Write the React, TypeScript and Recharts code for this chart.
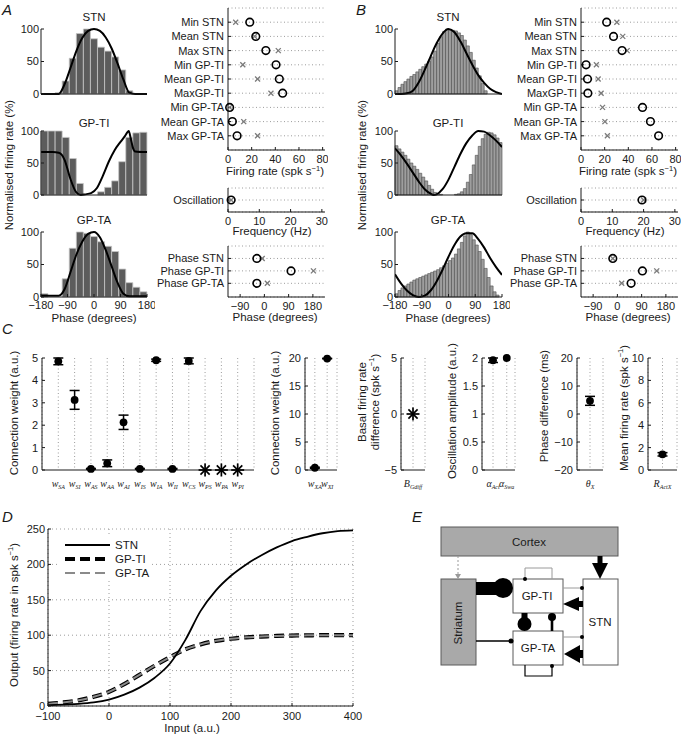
import React from 'react';
import {
  Bar,
  CartesianGrid,
  ComposedChart,
  ErrorBar,
  Line,
  LineChart,
  Scatter,
  ScatterChart,
  XAxis,
  YAxis,
} from 'recharts';

const FONT = '"Liberation Sans", Arial, Helvetica, sans-serif';
const SERIF = '"Liberation Serif", "Times New Roman", serif';
const INK = '#1a1a1a';
const GRID = '#9c9c9c';

// Panels A/B: phase histograms, normalised firing rate (%)
const stnBarsA = [0, 0, 2, 20, 55, 93, 100, 85, 72, 66, 57, 37, 5, 0, 0];
const gptiBarsA = [100, 100, 100, 90, 57, 18, 0, 0, 5, 12, 22, 52, 90, 97, 98];
const gptaBarsA = [5, 0, 0, 28, 75, 100, 98, 93, 85, 78, 70, 43, 22, 15, 8];

const stnBarsB = [5, 10, 15, 19, 23, 27, 30, 34, 38, 42, 46, 50, 57, 66, 78, 88, 96, 100, 99, 98, 97, 94, 90, 83, 74, 64, 52, 40, 28, 16, 5, 0, 0, 0, 0, 0];
const gptiBarsB = [77, 72, 67, 62, 56, 50, 45, 40, 34, 28, 22, 15, 9, 4, 2, 1, 0, 0, 0, 0, 1, 2, 5, 10, 20, 32, 47, 62, 76, 88, 95, 98, 97, 94, 89, 82];
const gptaBarsB = [5, 10, 14, 17, 20, 23, 26, 28, 30, 32, 34, 36, 38, 40, 42, 45, 48, 52, 56, 60, 66, 74, 84, 94, 100, 96, 88, 80, 70, 58, 44, 30, 17, 8, 3, 0];

// model curves over phase (degrees)
const curvePhase = [-180, -160, -140, -120, -100, -80, -60, -40, -20, 0, 20, 40, 60, 80, 100, 120, 140, 160, 180];
const stnCurveA = [0, 0, 0, 0, 15, 40, 66, 86, 97, 100, 97, 87, 70, 47, 22, 2, 0, 0, 0];
const gptiPhaseA = [-180, -140, -120, -110, -100, -80, -60, -45, -30, -10, 10, 30, 50, 70, 90, 105, 118, 125, 132, 140, 180];
const gptiCurveA = [67, 67, 66, 63, 55, 25, 4, 0, 1, 3, 11, 30, 52, 70, 83, 92, 100, 88, 74, 68, 67];
const gptaCurveA = [2, 2, 2, 2, 12, 38, 65, 85, 97, 100, 92, 72, 47, 22, 5, 1, 1, 1, 1];

const stnCurveB = [0, 0, 1, 5, 18, 37, 58, 78, 93, 100, 95, 81, 63, 45, 29, 17, 8, 3, 0];
const gptiPhaseB = [-180, -160, -140, -120, -100, -80, -60, -50, -40, -20, 0, 20, 40, 60, 80, 100, 120, 140, 160, 180];
const gptiCurveB = [73, 62, 49, 35, 21, 9, 2, 0, 1, 9, 24, 44, 64, 81, 93, 100, 99, 93, 85, 75];
const gptaCurveB = [35, 21, 10, 3, 0, 2, 10, 24, 42, 62, 80, 93, 98, 98, 89, 76, 60, 46, 34];

// Panels A/B: data (x) vs model (o)
const rateRows = ['Min STN', 'Mean STN', 'Max STN', 'Min GP-TI', 'Mean GP-TI', 'MaxGP-TI', 'Min GP-TA', 'Mean GP-TA', 'Max GP-TA'];
const rateModelA = [18.4, 23.5, 32, 40.6, 43.4, 46.2, 1.4, 3.7, 7.7];
const rateDataA = [6.5, 22.5, 42.5, 12.5, 25, 36.3, 1.4, 13.3, 25];
const rateModelB = [21.7, 27.5, 34.7, 4.3, 5.5, 5.8, 52, 58.7, 65.6];
const rateDataB = [30.3, 35.3, 39, 13, 14.5, 17, 18.2, 20.2, 22.3];

const oscRows = ['Oscillation'];
const oscModelA = [1];
const oscDataA = [1];
const oscModelB = [19.5];
const oscDataB = [20];

const phaseRows = ['Phase STN', 'Phase GP-TI', 'Phase GP-TA'];
const phaseModelA = [-28, 99, -28];
const phaseDataA = [-8, 182, 11];
const phaseModelB = [-17, 93, 51];
const phaseDataB = [-17, 146, 16];

// Panel C: fitted parameters (mean, error)
const connNames = ['SA', 'SI', 'AS', 'AA', 'AI', 'IS', 'IA', 'II', 'CS', 'PS', 'PA', 'PI'];
const connMean = [4.85, 3.13, 0.05, 0.3, 2.13, 0.05, 4.9, 0.05, 4.87, 0, 0, 0];
const connErr = [0.15, 0.42, 0.02, 0.15, 0.32, 0.02, 0.05, 0.02, 0.13, 0, 0, 0];
const connFixed = [false, false, false, false, false, false, false, false, false, true, true, true];

const extNames = ['XA', 'XI'];
const extMean = [0.4, 19.9];
const extErr = [0.1, 0.05];

const basalMean = [0];
const ampNames = ['Act', 'Swa'];
const ampMean = [1.96, 2.0];
const ampErr = [0.04, 0];
const phaseDiffMean = [4.7];
const phaseDiffErr = [1.6];
const rateXMean = [1.4];
const rateXErr = [0.15];

// Panel D: input/output functions
const inputLevels = [-100, -75, -50, -25, 0, 25, 50, 75, 100, 125, 150, 175, 200, 225, 250, 275, 300, 325, 350, 375, 400];
const stnOutput = [1, 2, 3, 5, 9, 16, 26, 40, 60, 93, 134, 163, 184, 200, 213, 224, 233, 239, 244, 247, 248];
const gptiOutput = [3, 5, 8, 13, 20, 31, 44, 57, 69, 80, 87, 92, 95, 97, 98, 99, 99.5, 99.8, 100, 100, 100];
const gptaOutput = [3, 5, 8, 13, 20, 31, 44, 57, 69, 80, 87, 92, 95, 97, 98, 99, 99.5, 99.8, 100, 100, 100];

type Box = { x: number; y: number; w: number; h: number; l: number; r: number; t: number; b: number };

// place a chart so that its plot area lands on (x, y, w, h)
const frame = (bx: Box) => ({
  style: { position: 'absolute' as const, left: bx.x - bx.l, top: bx.y - bx.t },
  width: bx.w + bx.l + bx.r,
  height: bx.h + bx.t + bx.b,
  margin: { top: bx.t, right: bx.r, bottom: 0, left: 0 },
});

const minus = (v: number) => String(v).replace('-', '\u2212');
const tickFont = { fontSize: 11, fill: INK };
const toPoints = (xs: number[], ys: number[]) => xs.map((phase, i) => ({ phase, v: ys[i] }));

const PhaseHistogram = ({
  box,
  bars,
  curve,
  fine,
  showTicks,
}: {
  box: Box;
  bars: number[];
  curve: { phase: number; v: number }[];
  fine: boolean;
  showTicks: boolean;
}) => {
  const f = frame(box);
  const data = bars.map((v, i) => ({ bin: i, v }));
  return (
    <div style={f.style}>
      <ComposedChart width={f.width} height={f.height} margin={f.margin} data={data} barCategoryGap={0} barGap={0}>
        <XAxis
          xAxisId="ph"
          dataKey="phase"
          type="number"
          domain={[-180, 180]}
          ticks={[-180, -90, 0, 90, 180]}
          interval={0}
          allowDataOverflow
          height={box.b}
          stroke={INK}
          tickSize={-3}
          tickMargin={7}
          tick={showTicks ? tickFont : false}
          tickFormatter={minus}
        />
        <XAxis xAxisId="bin" dataKey="bin" type="category" height={0} hide />
        <YAxis
          domain={[0, 100]}
          ticks={[0, 50, 100]}
          interval={0}
          width={box.l}
          stroke={INK}
          tickSize={-3}
          tickMargin={5}
          tick={tickFont}
        />
        <Bar
          xAxisId="bin"
          dataKey="v"
          fill={fine ? '#9e9e9e' : '#5c5c5c'}
          stroke={fine ? '#4d4d4d' : '#c4c4c4'}
          strokeWidth={fine ? 0.6 : 0.8}
          isAnimationActive={false}
        />
        <Line
          xAxisId="ph"
          data={curve}
          dataKey="v"
          type="monotone"
          stroke="#000"
          strokeWidth={2}
          dot={false}
          isAnimationActive={false}
        />
      </ComposedChart>
    </div>
  );
};

const OpenCircle = (p: any) => <circle cx={p.cx} cy={p.cy} r={3.8} fill="none" stroke="#000" strokeWidth={1.6} />;
const Cross = (p: any) => (
  <g stroke="#7a7a7a" strokeWidth={1.3}>
    <line x1={p.cx - 2.5} y1={p.cy - 2.5} x2={p.cx + 2.5} y2={p.cy + 2.5} />
    <line x1={p.cx - 2.5} y1={p.cy + 2.5} x2={p.cx + 2.5} y2={p.cy - 2.5} />
  </g>
);
const FilledDot = (p: any) => <circle cx={p.cx} cy={p.cy} r={3.9} fill="#000" />;
const Asterisk = (p: any) => (
  <g stroke="#000" strokeWidth={1.7}>
    {[0, 45, 90, 135].map((a) => {
      const dx = 6.5 * Math.cos((a * Math.PI) / 180);
      const dy = 6.5 * Math.sin((a * Math.PI) / 180);
      return <line key={a} x1={p.cx - dx} y1={p.cy - dy} x2={p.cx + dx} y2={p.cy + dy} />;
    })}
  </g>
);

const RowDots = ({
  box,
  rows,
  model,
  measured,
  domain,
  ticks,
  rowMax,
}: {
  box: Box;
  rows: string[];
  model: number[];
  measured: number[];
  domain: [number, number];
  ticks: number[];
  rowMax: number;
}) => {
  const f = frame(box);
  const modelPts = model.map((x, i) => ({ x, y: i + 1 }));
  const dataPts = measured.map((x, i) => ({ x, y: i + 1 }));
  return (
    <div style={f.style}>
      <ScatterChart width={f.width} height={f.height} margin={f.margin}>
        <CartesianGrid vertical={false} stroke={GRID} strokeDasharray="1 2.5" />
        <XAxis
          type="number"
          dataKey="x"
          domain={domain}
          ticks={ticks}
          interval={0}
          height={box.b}
          stroke={INK}
          tickSize={-3}
          tickMargin={8}
          tick={tickFont}
          tickFormatter={minus}
        />
        <YAxis
          type="number"
          dataKey="y"
          domain={[0, rowMax]}
          reversed
          ticks={rows.map((_, i) => i + 1)}
          interval={0}
          tickFormatter={(v: number) => rows[v - 1] ?? ''}
          width={box.l}
          stroke={INK}
          tickSize={-3}
          tickMargin={7}
          tick={tickFont}
        />
        <Scatter data={dataPts} shape={Cross} isAnimationActive={false} />
        <Scatter data={modelPts} shape={OpenCircle} isAnimationActive={false} />
      </ScatterChart>
    </div>
  );
};

const SubTick = (p: any) => {
  const lab = p.names[Math.round(p.payload.value) - 1];
  if (!lab) return null;
  return (
    <text x={p.x} y={p.y + 12} textAnchor="middle" fontFamily={SERIF} fontStyle="italic" fontSize={10} fill={INK}>
      {lab[0]}
      <tspan fontSize={6} dy={2}>
        {lab[1]}
      </tspan>
    </text>
  );
};

const WeightPlot = ({
  box,
  xDomain,
  names,
  means,
  errs,
  fixed,
  yDomain,
  yTicks,
}: {
  box: Box;
  xDomain: [number, number];
  names: [string, string][];
  means: number[];
  errs: number[];
  fixed: boolean[];
  yDomain: [number, number];
  yTicks: number[];
}) => {
  const f = frame(box);
  const pts = means.map((y, i) => ({ x: i + 1, y, err: errs[i] }));
  const dots = pts.filter((_, i) => !fixed[i]);
  const stars = pts.filter((_, i) => fixed[i]);
  return (
    <div style={f.style}>
      <ScatterChart width={f.width} height={f.height} margin={f.margin}>
        <CartesianGrid horizontal={false} stroke={GRID} strokeDasharray="1 2.5" />
        <XAxis
          type="number"
          dataKey="x"
          domain={xDomain}
          ticks={names.map((_, i) => i + 1)}
          interval={0}
          height={box.b}
          stroke={INK}
          tickLine={false}
          tickSize={0}
          tickMargin={5}
          tick={(p: any) => <SubTick {...p} names={names} />}
        />
        <YAxis
          type="number"
          dataKey="y"
          domain={yDomain}
          ticks={yTicks}
          interval={0}
          width={box.l}
          stroke={INK}
          tickSize={-3}
          tickMargin={7}
          tick={tickFont}
          tickFormatter={minus}
        />
        {dots.length > 0 && (
          <Scatter data={dots} shape={FilledDot} isAnimationActive={false}>
            <ErrorBar dataKey="err" direction="y" width={5} stroke="#000" strokeWidth={1.5} />
          </Scatter>
        )}
        {stars.length > 0 && <Scatter data={stars} shape={Asterisk} isAnimationActive={false} />}
      </ScatterChart>
    </div>
  );
};

const IoCurves = () => {
  const box: Box = { x: 48, y: 529, w: 305, h: 177, l: 40, r: 10, t: 8, b: 18 };
  const f = frame(box);
  const data = inputLevels.map((input, i) => ({
    input,
    stn: stnOutput[i],
    gpti: gptiOutput[i],
    gpta: gptaOutput[i],
  }));
  return (
    <div style={f.style}>
      <LineChart width={f.width} height={f.height} margin={f.margin} data={data}>
        <CartesianGrid stroke={GRID} strokeDasharray="1 3" />
        <XAxis
          dataKey="input"
          type="number"
          domain={[-100, 400]}
          ticks={[-100, 0, 100, 200, 300, 400]}
          interval={0}
          height={box.b}
          stroke={INK}
          tickSize={-3}
          tickMargin={9}
          tick={tickFont}
          tickFormatter={minus}
        />
        <YAxis
          domain={[0, 250]}
          ticks={[0, 50, 100, 150, 200, 250]}
          interval={0}
          width={box.l}
          stroke={INK}
          tickSize={-3}
          tickMargin={6}
          tick={tickFont}
        />
        <Line dataKey="gpti" type="monotone" stroke="#000" strokeWidth={4.2} strokeDasharray="10 5" dot={false} isAnimationActive={false} />
        <Line dataKey="gpta" type="monotone" stroke="#8a8a8a" strokeWidth={2} strokeDasharray="10 5" dot={false} isAnimationActive={false} />
        <Line dataKey="stn" type="monotone" stroke="#000" strokeWidth={1.8} dot={false} isAnimationActive={false} />
      </LineChart>
    </div>
  );
};

const Sup = ({ pre, post = ')' }: { pre: string; post?: string }) => (
  <>
    <tspan>{pre}</tspan>
    <tspan dy={-4} fontSize={7.5}>
      {'\u22121'}
    </tspan>
    <tspan dy={4}>{post}</tspan>
  </>
);

const VText = ({ x, y, children }: { x: number; y: number; children: React.ReactNode }) => (
  <text
    transform={`translate(${x},${y}) rotate(-90)`}
    textAnchor="middle"
    dominantBaseline="central"
    fontSize={11.5}
    fill={INK}
  >
    {children}
  </text>
);

const HText = ({ x, y, children, size = 11.5 }: { x: number; y: number; children: React.ReactNode; size?: number }) => (
  <text x={x} y={y} textAnchor="middle" fontSize={size} fill={INK}>
    {children}
  </text>
);

const Letter = ({ x, y, children }: { x: number; y: number; children: string }) => (
  <text x={x} y={y} fontSize={15} fontStyle="italic" fill={INK}>
    {children}
  </text>
);

const Circuit = () => (
  <g>
    <rect x={441} y={527} width={177} height={29} fill="#a9a9a9" stroke="#5a5a5a" />
    <rect x={441} y={579} width={35} height={86} fill="#a9a9a9" stroke="#5a5a5a" />
    <rect x={513} y={579} width={50} height={34} fill="#fff" stroke="#5a5a5a" />
    <rect x={513} y={631} width={50} height={34} fill="#fff" stroke="#5a5a5a" />
    <rect x={583} y={579} width={35} height={86} fill="#fff" stroke="#5a5a5a" />

    <line x1={458} y1={556} x2={458} y2={575} stroke="#9a9a9a" strokeDasharray="2 2" />
    <polygon points="455,574 461,574 458,579" fill="#9a9a9a" />

    <rect x={597.5} y={556} width={5} height={8} fill="#000" />
    <polygon points="592,563 608,563 600,579" fill="#000" />

    <rect x={476} y={582} width={27} height={13} fill="#000" />
    <circle cx={503} cy={588} r={10} fill="#000" />

    <line x1={476} y1={641} x2={511} y2={641} stroke="#000" strokeWidth={1.5} />
    <circle cx={511} cy={641} r={2.5} fill="#000" />

    <path d="M525 579 V568 H552 V579" fill="none" stroke="#9a9a9a" />
    <circle cx={525} cy={579} r={2} fill="#000" />
    <path d="M525 665 V676 H552 V665" fill="none" stroke="#000" strokeWidth={1.2} />
    <circle cx={552} cy={666} r={2} fill="#000" />

    <rect x={521.5} y={613} width={6} height={6} fill="#000" />
    <circle cx={524.5} cy={624} r={7} fill="#000" />
    <line x1={552} y1={631} x2={552} y2={617} stroke="#000" strokeWidth={2.6} />
    <circle cx={552} cy={617} r={4} fill="#000" />

    <rect x={577} y={601} width={6} height={6} fill="#000" />
    <polygon points="563,604 579,597 579,611" fill="#000" />
    <rect x={578} y={650} width={5} height={8} fill="#000" />
    <polygon points="564,654 580,645 580,663" fill="#000" />

    <line x1={563} y1={588} x2={582} y2={588} stroke="#9a9a9a" />
    <circle cx={582} cy={588} r={2} fill="#000" />
    <line x1={563} y1={637} x2={582} y2={637} stroke="#9a9a9a" />
    <circle cx={582} cy={637} r={2} fill="#000" />

    <g fontSize={11.5} fill={INK} textAnchor="middle" dominantBaseline="central">
      <text x={529} y={542}>Cortex</text>
      <text transform="translate(458,623) rotate(-90)">Striatum</text>
      <text x={537} y={596}>GP-TI</text>
      <text x={538} y={648}>GP-TA</text>
      <text x={600} y={622}>STN</text>
    </g>
  </g>
);

const histA = (y: number, h: number): Box => ({ x: 41, y, w: 106, h, l: 40, r: 8, t: 9, b: 18 });
const histB = (y: number, h: number): Box => ({ x: 395, y, w: 107, h, l: 40, r: 8, t: 9, b: 18 });
const dotBox = (x: number, y: number, h: number): Box => ({ x, y, w: 97, h, l: 90, r: 3, t: 7, b: 18 });
const cBox = (x: number, w: number): Box => ({ x, y: 358, w, h: 112, l: 30, r: 4, t: 9, b: 24 });

export default function App() {
  return (
    <div style={{ position: 'relative', width: 684, height: 735, fontFamily: FONT, background: '#fff', overflow: 'hidden' }}>
      <style>{'body{margin:0}'}</style>

      <PhaseHistogram box={histA(29, 65)} bars={stnBarsA} curve={toPoints(curvePhase, stnCurveA)} fine={false} showTicks={false} />
      <PhaseHistogram box={histA(131, 64)} bars={gptiBarsA} curve={toPoints(gptiPhaseA, gptiCurveA)} fine={false} showTicks={false} />
      <PhaseHistogram box={histA(232, 65)} bars={gptaBarsA} curve={toPoints(curvePhase, gptaCurveA)} fine={false} showTicks />

      <PhaseHistogram box={histB(29, 65)} bars={stnBarsB} curve={toPoints(curvePhase, stnCurveB)} fine showTicks={false} />
      <PhaseHistogram box={histB(131, 64)} bars={gptiBarsB} curve={toPoints(gptiPhaseB, gptiCurveB)} fine showTicks={false} />
      <PhaseHistogram box={histB(232, 65)} bars={gptaBarsB} curve={toPoints(curvePhase, gptaCurveB)} fine showTicks />

      <RowDots box={dotBox(228, 8, 142)} rows={rateRows} model={rateModelA} measured={rateDataA} domain={[0, 82]} ticks={[0, 20, 40, 60, 80]} rowMax={10} />
      <RowDots box={dotBox(228, 188, 24)} rows={oscRows} model={oscModelA} measured={oscDataA} domain={[0, 31]} ticks={[0, 10, 20, 30]} rowMax={2} />
      <RowDots box={dotBox(228, 246, 51)} rows={phaseRows} model={phaseModelA} measured={phaseDataA} domain={[-135, 225]} ticks={[-90, 0, 90, 180]} rowMax={4.1} />

      <RowDots box={dotBox(581, 8, 142)} rows={rateRows} model={rateModelB} measured={rateDataB} domain={[0, 82]} ticks={[0, 20, 40, 60, 80]} rowMax={10} />
      <RowDots box={dotBox(581, 188, 24)} rows={oscRows} model={oscModelB} measured={oscDataB} domain={[0, 31]} ticks={[0, 10, 20, 30]} rowMax={2} />
      <RowDots box={dotBox(581, 246, 51)} rows={phaseRows} model={phaseModelB} measured={phaseDataB} domain={[-135, 225]} ticks={[-90, 0, 90, 180]} rowMax={4.1} />

      <WeightPlot
        box={cBox(42, 212)}
        xDomain={[0, 13]}
        names={connNames.map((s) => ['w', s] as [string, string])}
        means={connMean}
        errs={connErr}
        fixed={connFixed}
        yDomain={[0, 5]}
        yTicks={[0, 1, 2, 3, 4, 5]}
      />
      <WeightPlot
        box={cBox(305, 32)}
        xDomain={[0.2, 2.8]}
        names={extNames.map((s) => ['w', s] as [string, string])}
        means={extMean}
        errs={extErr}
        fixed={[false, false]}
        yDomain={[0, 20]}
        yTicks={[0, 5, 10, 15, 20]}
      />
      <WeightPlot
        box={cBox(401, 24)}
        xDomain={[0.5, 1.5]}
        names={[['B', 'Gdiff']]}
        means={basalMean}
        errs={[0]}
        fixed={[true]}
        yDomain={[-5, 5]}
        yTicks={[-5, 0, 5]}
      />
      <WeightPlot
        box={cBox(482, 33)}
        xDomain={[0.2, 2.6]}
        names={ampNames.map((s) => ['\u03b1', s] as [string, string])}
        means={ampMean}
        errs={ampErr}
        fixed={[false, false]}
        yDomain={[0, 2]}
        yTicks={[0, 0.5, 1, 1.5, 2]}
      />
      <WeightPlot
        box={cBox(577, 26)}
        xDomain={[0.5, 1.5]}
        names={[['\u03b8', 'X']]}
        means={phaseDiffMean}
        errs={phaseDiffErr}
        fixed={[false]}
        yDomain={[-20, 20]}
        yTicks={[-20, -10, 0, 10, 20]}
      />
      <WeightPlot
        box={cBox(648, 29)}
        xDomain={[0.5, 1.5]}
        names={[['R', 'ActX']]}
        means={rateXMean}
        errs={rateXErr}
        fixed={[false]}
        yDomain={[0, 10]}
        yTicks={[0, 2, 4, 6, 8, 10]}
      />

      <IoCurves />

      <svg width={684} height={735} style={{ position: 'absolute', left: 0, top: 0, pointerEvents: 'none' }}>
        <Letter x={2} y={15}>A</Letter>
        <Letter x={356} y={15}>B</Letter>
        <Letter x={2} y={334}>C</Letter>
        <Letter x={2} y={522}>D</Letter>
        <Letter x={412} y={522}>E</Letter>

        <HText x={94} y={21}>STN</HText>
        <HText x={94} y={127}>GP-TI</HText>
        <HText x={94} y={224}>GP-TA</HText>
        <HText x={448} y={21}>STN</HText>
        <HText x={448} y={127}>GP-TI</HText>
        <HText x={448} y={224}>GP-TA</HText>

        <VText x={9} y={165}>Normalised firing rate (%)</VText>
        <VText x={362} y={165}>Normalised firing rate (%)</VText>
        <HText x={94} y={322}>Phase (degrees)</HText>
        <HText x={448} y={322}>Phase (degrees)</HText>

        <HText x={275} y={175}>
          <Sup pre="Firing rate (spk s" />
        </HText>
        <HText x={272} y={235}>Frequency (Hz)</HText>
        <HText x={275} y={321}>Phase (degrees)</HText>
        <HText x={628} y={175}>
          <Sup pre="Firing rate (spk s" />
        </HText>
        <HText x={625} y={235}>Frequency (Hz)</HText>
        <HText x={628} y={321}>Phase (degrees)</HText>

        <VText x={14} y={413}>Connection weight (a.u.)</VText>
        <VText x={275} y={413}>Connection weight (a.u.)</VText>
        <VText x={362} y={402}>Basal firing rate</VText>
        <VText x={375} y={402}>
          <Sup pre="difference (spk s" />
        </VText>
        <VText x={452} y={411}>Oscillation amplitude (a.u.)</VText>
        <VText x={544} y={406}>Phase difference (ms)</VText>
        <VText x={624} y={408}>
          <Sup pre="Mean firing rate (spk s" />
        </VText>

        <VText x={14} y={615}>
          <Sup pre="Output (firing rate in spk s" />
        </VText>
        <HText x={192} y={732}>Input (a.u.)</HText>

        <rect x={60} y={537} width={92} height={43} fill="#fff" />
        <line x1={65} y1={545} x2={110} y2={545} stroke="#000" strokeWidth={1.8} />
        <line x1={65} y1={559} x2={110} y2={559} stroke="#000" strokeWidth={4.2} strokeDasharray="10 5" />
        <line x1={65} y1={573} x2={110} y2={573} stroke="#8a8a8a" strokeWidth={2} strokeDasharray="10 5" />
        <g fontSize={11.5} fill={INK}>
          <text x={115} y={549}>STN</text>
          <text x={115} y={563}>GP-TI</text>
          <text x={115} y={577}>GP-TA</text>
        </g>

        <Circuit />
      </svg>
    </div>
  );
}
